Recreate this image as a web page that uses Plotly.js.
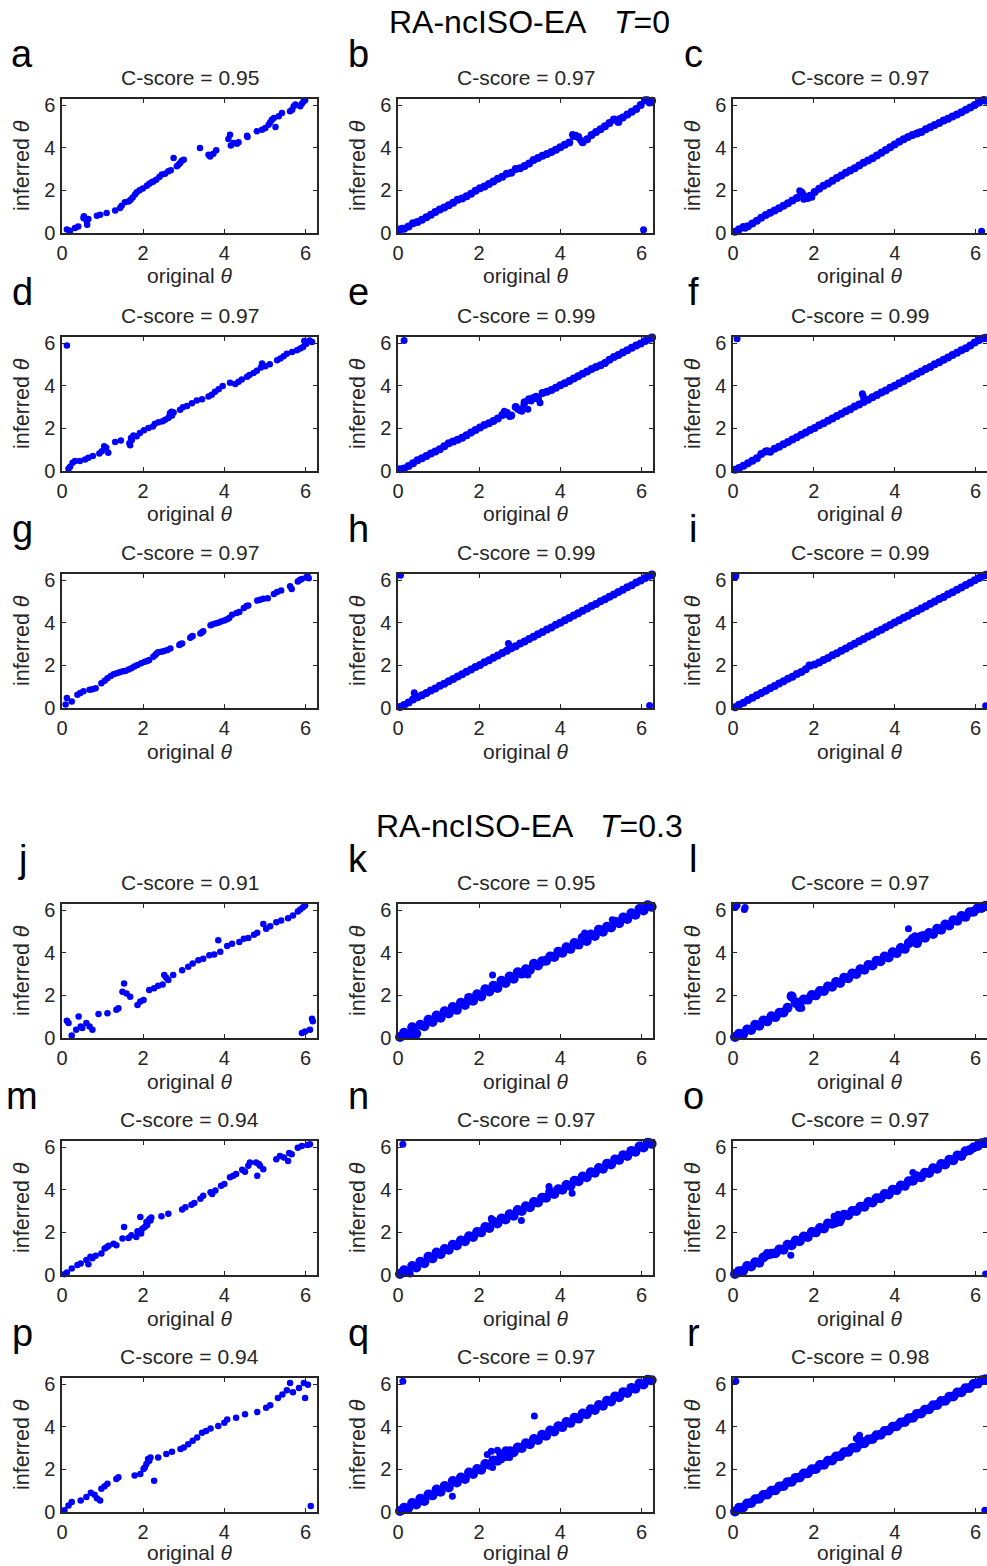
<!DOCTYPE html>
<html>
<head>
<meta charset="utf-8">
<script src="https://cdn.plot.ly/plotly-3.0.1.min.js"></script>
<style>
html,body{margin:0;padding:0;background:#fff;}
#chart{width:987px;height:1566px;}
</style>
</head>
<body>
<div id="chart"></div>
<script>
// ---------------- DATA ----------------
const panelLetters = ['a','b','c','d','e','f','g','h','i','j','k','l','m','n','o','p','q','r'];
const cScores = ['0.95','0.97','0.97','0.97','0.99','0.99','0.97','0.99','0.99','0.91','0.95','0.97','0.94','0.97','0.97','0.94','0.97','0.98'];
const tickValues = [0, 2, 4, 6];
const groupTitles = ['RA-ncISO-EA', 'RA-ncISO-EA'];
const groupTemps = ['0', '0.3'];

// original theta positions read along the dense diagonals (T=0 panels)
const origT0 = [0.05,0.15,0.26,0.37,0.48,0.59,0.70,0.81,0.92,1.03,1.14,1.25,1.36,1.47,1.58,1.69,1.80,1.91,2.02,2.13,2.24,2.35,2.46,2.57,2.68,2.79,2.90,3.01,3.12,3.23,3.34,3.45,3.56,3.67,3.78,3.89,4.00,4.11,4.22,4.33,4.44,4.55,4.66,4.77,4.88,4.99,5.10,5.21,5.32,5.43,5.54,5.65,5.76,5.87,5.98,6.09,6.20,6.26];
// original theta positions read along the dense diagonals (T=0.3 panels)
const origT3 = [0.05,0.15,0.25,0.35,0.45,0.55,0.65,0.75,0.85,0.95,1.05,1.15,1.25,1.35,1.45,1.55,1.65,1.75,1.85,1.95,2.05,2.15,2.25,2.35,2.45,2.55,2.65,2.75,2.85,2.95,3.05,3.15,3.25,3.35,3.45,3.55,3.65,3.75,3.85,3.95,4.05,4.15,4.25,4.35,4.45,4.55,4.65,4.75,4.85,4.95,5.05,5.15,5.25,5.35,5.45,5.55,5.65,5.75,5.85,5.95,6.05,6.15,6.25];

// panel a (sparse)
const aX = [0.12,0.20,0.32,0.40,0.53,0.54,0.61,0.62,0.65,0.86,0.94,1.10,1.31,1.43,1.47,1.55,1.64,1.69,1.74,1.80,1.84,1.91,1.99,2.09,2.15,2.21,2.25,2.32,2.40,2.46,2.54,2.62,2.68,2.75,2.83,2.87,2.91,2.95,3.00,3.40,3.61,3.65,3.73,3.80,4.10,4.14,4.16,4.23,4.31,4.35,4.56,4.57,4.80,4.93,5.01,5.09,5.13,5.17,5.22,5.26,5.34,5.42,5.62,5.67,5.71,5.75,5.87,5.91,5.95,5.99];
const aY = [0.16,0.11,0.23,0.31,0.70,0.78,0.55,0.39,0.66,0.81,0.86,0.94,1.05,1.17,1.28,1.44,1.48,1.56,1.66,1.80,1.91,2.00,2.09,2.22,2.31,2.38,2.42,2.50,2.63,2.74,2.78,2.89,2.94,3.52,3.13,3.20,3.28,3.39,3.44,3.99,3.67,3.59,3.72,3.88,4.41,4.61,4.10,4.22,4.19,4.25,4.56,4.50,4.77,4.84,4.92,5.08,5.19,5.31,5.39,4.97,5.47,5.63,5.71,5.78,5.94,6.02,5.94,6.06,6.17,6.22];

// panel b (dense, on origT0) + extra points
const bY = [0.16,0.20,0.30,0.46,0.52,0.62,0.74,0.86,0.98,1.10,1.20,1.30,1.42,1.56,1.62,1.72,1.84,1.98,2.10,2.18,2.30,2.42,2.54,2.64,2.78,2.82,3.00,3.04,3.14,3.26,3.42,3.52,3.62,3.70,3.80,3.90,4.02,4.14,4.24,4.55,4.50,4.26,4.40,4.60,4.74,4.86,5.00,5.16,5.32,5.20,5.42,5.56,5.68,5.82,6.00,6.22,6.12,6.20];
const bExX = [0.10,4.30,4.38,4.50,5.45,6.15,6.05];
const bExY = [0.22,4.62,4.58,4.35,5.36,6.25,0.15];

// panel c
const cY = [0.06,0.18,0.28,0.32,0.45,0.58,0.72,0.84,0.95,1.06,1.16,1.28,1.40,1.52,1.64,1.90,1.70,1.75,1.92,2.08,2.22,2.32,2.45,2.58,2.70,2.82,2.93,3.04,3.17,3.29,3.40,3.51,3.63,3.76,3.89,4.02,4.15,4.28,4.40,4.50,4.60,4.66,4.74,4.86,4.96,5.06,5.16,5.28,5.36,5.46,5.56,5.66,5.78,5.88,6.00,6.12,6.24,6.20];
const cExX = [1.65,1.72,1.75,1.85,1.95,0.30,4.60,6.15];
const cExY = [1.98,1.85,1.58,1.62,1.68,0.22,4.72,0.08];

// panel d (sparse)
const dX = [0.12,0.16,0.20,0.26,0.32,0.44,0.57,0.65,0.76,0.92,0.98,1.04,1.09,1.14,1.31,1.45,1.68,1.70,1.76,1.84,1.92,2.02,2.13,2.24,2.29,2.38,2.48,2.54,2.62,2.66,2.71,2.75,2.91,2.98,3.08,3.20,3.32,3.45,3.61,3.69,3.77,3.86,3.96,4.14,4.27,4.35,4.43,4.56,4.62,4.72,4.80,4.90,4.93,5.01,5.12,5.30,5.38,5.46,5.54,5.67,5.79,5.87,5.94,5.97,6.02,6.10,6.16,2.65,2.68,2.70,1.66,1.72];
const dY = [5.89,0.11,0.20,0.39,0.47,0.47,0.54,0.62,0.70,0.82,0.93,1.16,1.09,0.85,1.36,1.43,1.21,1.55,1.66,1.63,1.78,1.91,2.02,2.09,2.22,2.28,2.33,2.40,2.48,2.71,2.60,2.74,2.87,2.99,3.05,3.18,3.30,3.36,3.49,3.57,3.72,3.83,3.98,4.14,4.08,4.19,4.29,4.42,4.50,4.60,4.70,4.85,5.04,4.91,5.00,5.19,5.27,5.38,5.50,5.58,5.66,5.74,5.81,6.09,5.97,6.12,6.05,2.55,2.65,2.78,1.30,1.45];

// panel e
const eY = [0.08,0.12,0.24,0.36,0.50,0.60,0.70,0.82,0.92,1.02,1.16,1.30,1.38,1.46,1.56,1.68,1.80,1.92,2.04,2.16,2.24,2.34,2.46,2.62,2.72,2.60,3.00,2.86,3.22,3.36,3.42,3.40,3.66,3.72,3.80,3.90,4.02,4.12,4.22,4.34,4.44,4.56,4.66,4.78,4.88,4.96,5.06,5.22,5.34,5.44,5.56,5.66,5.78,5.88,5.98,6.10,6.20,6.26];
const eExX = [2.62,2.70,2.75,2.95,3.05,3.10,3.20,3.28,3.50,3.40,0.15];
const eExY = [2.80,2.65,2.55,2.90,2.80,3.08,2.90,3.28,3.20,3.50,6.12];

// panel f
const fY = [0.06,0.14,0.25,0.36,0.48,0.60,0.80,0.92,0.90,1.04,1.14,1.26,1.36,1.48,1.58,1.70,1.80,1.92,2.02,2.14,2.24,2.36,2.46,2.58,2.68,2.80,2.90,3.02,3.12,3.24,3.34,3.46,3.56,3.68,3.78,3.90,4.00,4.12,4.22,4.34,4.44,4.56,4.66,4.78,4.88,5.00,5.10,5.22,5.32,5.44,5.54,5.66,5.76,5.88,6.02,6.14,6.22,6.25];
const fExX = [3.20,3.22,0.85,0.10];
const fExY = [3.62,3.52,0.95,6.20];

// panel g (sparse)
const gX = [0.09,0.12,0.24,0.38,0.45,0.53,0.68,0.75,0.83,0.97,1.05,1.12,1.20,1.27,1.35,1.42,1.50,1.56,1.64,1.71,1.78,1.86,1.95,2.04,2.10,2.15,2.25,2.30,2.33,2.37,2.45,2.52,2.60,2.67,2.89,2.92,2.96,3.16,3.19,3.22,3.41,3.45,3.48,3.66,3.70,3.78,3.85,3.92,4.00,4.07,4.12,4.19,4.30,4.37,4.48,4.55,4.59,4.81,4.88,4.96,5.07,5.22,5.30,5.40,5.62,5.66,5.81,5.86,5.91,6.02,6.05,6.08];
const gY = [0.16,0.47,0.31,0.62,0.70,0.78,0.85,0.88,0.93,1.16,1.28,1.40,1.50,1.58,1.63,1.68,1.72,1.74,1.80,1.86,1.95,2.02,2.10,2.17,2.20,2.25,2.40,2.48,2.55,2.61,2.64,2.67,2.72,2.79,2.95,3.00,3.03,3.29,3.34,3.38,3.49,3.55,3.60,3.88,3.92,3.96,4.00,4.06,4.10,4.16,4.22,4.37,4.45,4.50,4.69,4.78,4.81,5.04,5.08,5.12,5.15,5.35,5.44,5.51,5.71,5.58,5.93,6.00,6.05,6.13,6.18,6.08];

// panel h
const hY = [0.05,0.14,0.26,0.40,0.50,0.60,0.70,0.82,0.92,1.04,1.14,1.26,1.36,1.48,1.58,1.70,1.80,1.92,2.02,2.14,2.24,2.36,2.46,2.58,2.68,2.80,2.90,3.02,3.12,3.24,3.34,3.46,3.56,3.68,3.78,3.90,4.00,4.12,4.22,4.34,4.44,4.56,4.66,4.78,4.88,5.00,5.10,5.22,5.32,5.44,5.54,5.66,5.76,5.88,5.98,6.10,6.20,6.26];
const hExX = [0.40,0.42,2.72,2.75,0.06,6.20];
const hExY = [0.72,0.62,3.02,2.92,6.22,0.12];

// panel i
const iY = [0.04,0.15,0.25,0.37,0.48,0.60,0.70,0.81,0.93,1.03,1.15,1.25,1.37,1.47,1.59,1.69,1.82,1.98,2.04,2.13,2.25,2.35,2.47,2.57,2.69,2.79,2.91,3.01,3.13,3.23,3.35,3.45,3.57,3.67,3.79,3.89,4.01,4.11,4.23,4.33,4.45,4.55,4.67,4.77,4.89,4.99,5.11,5.21,5.33,5.43,5.55,5.65,5.77,5.87,5.99,6.09,6.20,6.25];
const iExX = [1.88,0.05,0.07,6.25];
const iExY = [2.02,6.12,6.20,0.10];

// panel j (sparse)
const jX = [0.12,0.16,0.24,0.35,0.41,0.46,0.50,0.60,0.68,0.75,0.90,1.12,1.34,1.39,1.49,1.53,1.59,1.68,1.86,1.93,2.01,2.15,2.27,2.37,2.48,2.52,2.57,2.62,2.74,2.96,3.11,3.22,3.36,3.48,3.63,3.75,3.85,3.90,4.07,4.19,4.37,4.48,4.59,4.73,4.81,4.96,5.03,5.13,5.28,5.40,5.57,5.69,5.81,5.87,5.94,5.99,5.91,5.99,6.11,6.16,6.18];
const jY = [0.81,0.70,0.12,0.39,1.01,0.54,0.47,0.70,0.54,0.39,1.12,1.16,1.32,1.40,2.17,2.56,2.09,1.94,1.55,1.71,1.78,2.25,2.33,2.45,2.51,2.95,2.82,2.72,2.95,3.18,3.34,3.49,3.65,3.72,3.88,3.91,4.58,4.04,4.31,4.42,4.50,4.65,4.69,4.84,4.93,5.35,5.12,5.24,5.43,5.51,5.62,5.74,5.93,6.02,6.13,6.21,0.23,0.31,0.39,0.90,0.78];

// panel k (dense, on origT3)
const kY = [0.05,0.25,0.15,0.50,0.20,0.62,0.55,0.85,0.75,1.05,0.95,1.25,1.15,1.45,1.32,1.65,1.55,1.88,1.75,2.05,1.95,2.28,2.18,2.45,2.35,2.68,2.58,2.88,2.78,3.08,3.02,3.22,3.20,3.48,3.40,3.60,3.62,3.82,3.80,4.05,4.00,4.25,4.18,4.45,4.38,4.70,4.55,4.85,4.78,5.08,4.98,5.22,5.18,5.45,5.38,5.65,5.58,5.85,5.78,6.05,5.98,6.22,6.15];
const kExX = [2.33,3.20,5.28,4.60,6.20,6.10,0.30,0.40];
const kExY = [2.95,2.95,5.55,4.92,6.25,6.20,0.10,0.45];

// panel l
const lY = [0.05,0.20,0.18,0.40,0.38,0.62,0.58,0.82,0.78,1.02,0.98,1.18,1.20,1.42,1.95,1.65,1.45,1.80,1.80,2.02,2.00,2.20,2.20,2.42,2.40,2.62,2.58,2.82,2.80,3.02,3.00,3.22,3.20,3.42,3.40,3.62,3.60,3.82,3.78,4.02,3.98,4.22,4.18,4.45,4.65,4.45,4.75,4.70,4.92,4.88,5.12,5.08,5.32,5.28,5.52,5.50,5.72,5.68,5.90,5.92,6.08,6.10,6.20];
const lExX = [1.43,1.50,1.58,1.70,1.62,4.34,4.50,4.60,4.70,0.06,0.10,0.28,0.30];
const lExY = [2.02,1.80,1.55,1.40,1.72,5.12,4.80,4.55,4.85,6.13,6.22,6.02,6.12];

// panel m (sparse)
const mX = [0.06,0.12,0.24,0.38,0.46,0.60,0.65,0.75,0.83,0.97,1.05,1.15,1.27,1.34,1.49,1.53,1.64,1.71,1.83,1.86,1.93,1.98,2.04,2.08,2.15,2.45,2.62,2.96,3.04,3.19,3.26,3.41,3.48,3.66,3.78,3.92,4.00,4.14,4.22,4.29,4.44,4.51,4.59,4.63,4.78,4.81,4.88,4.96,5.28,5.37,5.47,5.57,5.66,5.81,5.91,6.11,2.10,2.18,2.20,1.95,1.10,5.60,4.85,3.70,0.70,6.05];
const mY = [0.03,0.12,0.31,0.47,0.54,0.70,0.50,0.78,0.90,1.01,1.24,1.37,1.47,1.40,1.71,2.25,1.74,1.86,1.78,2.05,2.72,2.17,2.25,2.48,2.61,2.76,2.87,3.07,3.18,3.29,3.38,3.57,3.72,3.88,3.96,4.19,4.27,4.58,4.65,4.73,4.93,4.84,5.12,5.27,5.27,4.65,5.12,4.96,5.43,5.58,5.51,5.35,5.66,5.97,6.05,6.13,2.35,2.55,2.70,1.95,1.30,5.72,5.20,3.80,0.85,6.10];

// panel n
const nY = [0.05,0.22,0.15,0.42,0.35,0.62,0.55,0.85,0.78,1.05,0.98,1.22,1.18,1.42,1.38,1.62,1.58,1.82,1.78,2.02,2.00,2.25,2.20,2.50,2.42,2.65,2.60,2.85,2.78,3.05,3.00,3.22,3.18,3.42,3.40,3.62,3.62,3.90,3.80,4.02,4.00,4.22,4.18,4.42,4.40,4.62,4.58,4.82,4.80,5.02,4.98,5.22,5.18,5.42,5.40,5.62,5.58,5.82,5.78,6.02,5.98,6.20,6.15];
const nExX = [0.12,3.04,4.29,2.30,3.72,6.20,0.30];
const nExY = [6.13,2.56,3.83,2.65,4.15,6.25,0.05];

// panel o
const oY = [0.05,0.18,0.20,0.42,0.40,0.60,0.58,0.82,0.95,1.00,1.02,1.20,1.18,1.42,1.40,1.62,1.58,1.80,1.78,2.02,2.00,2.20,2.18,2.42,2.40,2.62,2.58,2.82,2.80,3.00,3.00,3.20,3.20,3.42,3.40,3.60,3.60,3.80,3.78,4.00,3.98,4.20,4.18,4.40,4.42,4.60,4.58,4.80,4.78,5.00,4.98,5.20,5.18,5.40,5.38,5.60,5.58,5.80,5.85,5.98,6.05,6.18,6.22];
const oExX = [1.43,0.84,2.50,2.55,2.60,2.65,2.70,4.45,4.55,6.25];
const oExY = [0.93,1.05,2.75,2.40,2.85,2.45,2.80,4.81,4.70,0.05];

// panel p (sparse)
const pX = [0.06,0.16,0.24,0.46,0.60,0.71,0.80,0.86,0.94,0.97,1.05,1.12,1.34,1.39,1.79,1.93,2.01,2.04,2.08,2.12,2.15,2.18,2.27,2.37,2.57,2.71,2.92,3.00,3.11,3.22,3.33,3.45,3.55,3.66,3.85,4.00,4.07,4.29,4.51,4.81,5.03,5.13,5.32,5.43,5.54,5.62,5.69,5.84,5.96,5.99,6.06,6.13];
const pY = [0.08,0.31,0.47,0.54,0.70,0.90,0.81,0.65,0.54,1.09,1.21,1.32,1.55,1.63,1.71,1.78,2.02,2.09,2.25,2.48,2.40,2.56,1.47,2.56,2.72,2.82,2.95,3.03,3.18,3.34,3.49,3.72,3.80,3.91,4.03,4.19,4.34,4.42,4.58,4.69,4.89,5.00,5.35,5.51,5.71,6.05,5.62,5.82,6.05,5.35,5.97,0.28];

// panel q
const qY = [0.05,0.20,0.18,0.42,0.35,0.62,0.52,0.82,0.78,1.05,0.95,1.22,1.15,1.45,1.38,1.62,1.55,1.85,1.78,2.02,1.98,2.25,2.22,2.42,2.40,2.65,2.62,2.85,2.80,3.02,3.00,3.22,3.18,3.42,3.38,3.62,3.58,3.82,3.78,4.02,3.98,4.22,4.18,4.42,4.38,4.62,4.58,4.82,4.78,5.02,4.98,5.22,5.18,5.42,5.38,5.62,5.58,5.82,5.78,6.02,5.98,6.20,6.18];
const qExX = [0.12,3.36,1.34,2.33,2.20,2.30,2.45,2.55,2.65,2.75,2.80,2.50];
const qExY = [6.13,4.50,0.74,2.09,2.70,2.85,2.90,2.45,2.92,2.55,2.90,2.80];

// panel r
const rY = [0.02,0.20,0.21,0.40,0.42,0.60,0.62,0.80,0.82,1.00,1.02,1.20,1.22,1.40,1.42,1.60,1.62,1.80,1.82,2.00,2.02,2.20,2.22,2.40,2.42,2.60,2.62,2.80,2.82,3.00,3.02,3.20,3.22,3.40,3.42,3.60,3.62,3.80,3.82,4.00,4.02,4.20,4.22,4.40,4.42,4.60,4.62,4.80,4.82,5.00,5.02,5.20,5.22,5.40,5.42,5.60,5.62,5.80,5.82,6.00,6.02,6.18,6.22];
const rExX = [0.07,6.23,3.13,3.05,3.20];
const rExY = [6.13,0.08,3.60,3.45,3.35];

// ---------------- BUILD ----------------
// each panel: [main x, main y, extra x, extra y]
const panelData = [
  [aX, aY, [], []],
  [origT0, bY, bExX, bExY],
  [origT0, cY, cExX, cExY],
  [dX, dY, [], []],
  [origT0, eY, eExX, eExY],
  [origT0, fY, fExX, fExY],
  [gX, gY, [], []],
  [origT0, hY, hExX, hExY],
  [origT0, iY, iExX, iExY],
  [jX, jY, [], []],
  [origT3, kY, kExX, kExY],
  [origT3, lY, lExX, lExY],
  [mX, mY, [], []],
  [origT3, nY, nExX, nExY],
  [origT3, oY, oExX, oExY],
  [pX, pY, [], []],
  [origT3, qY, qExX, qExY],
  [origT3, rY, rExX, rExY]
];

const W = 987, H = 1566;
const colL = [62, 398, 733], colR = [317, 653, 987];
const rowT = [99, 337, 574, 904, 1141, 1378], rowB = [233, 471, 708, 1038, 1275, 1512];
const FONT = 'Liberation Sans, Arial, Helvetica, sans-serif';
const TXT = '#262626';
const fx = v => v / W, fy = v => 1 - v / H;

const traces = [], annotations = [];
const layout = {
  width: W, height: H,
  margin: {l: 0, r: 0, t: 0, b: 0},
  paper_bgcolor: '#ffffff', plot_bgcolor: '#ffffff',
  showlegend: false,
  font: {family: FONT, color: TXT},
  annotations: annotations
};

panelData.forEach((pd, i) => {
  const row = Math.floor(i / 3), col = i % 3;
  const n = i + 1;
  const xa = 'xaxis' + (n === 1 ? '' : n), ya = 'yaxis' + (n === 1 ? '' : n);
  const xr = 'x' + (n === 1 ? '' : n), yr = 'y' + (n === 1 ? '' : n);
  const L = colL[col], R = colR[col], T = rowT[row], B = rowB[row];
  const dense = col !== 0;
  const msize = !dense ? 6.5 : (row >= 3 ? 10 : 8);
  const common = {
    range: [0, 2 * Math.PI], tickvals: tickValues, ticktext: tickValues.map(String),
    ticks: 'inside', ticklen: 4, tickwidth: 1, tickcolor: TXT,
    showline: true, linecolor: TXT, linewidth: 1.6, mirror: 'ticks',
    showgrid: false, zeroline: false, fixedrange: true,
    tickfont: {family: FONT, size: 20, color: TXT}
  };
  layout[xa] = Object.assign({}, common, {domain: [fx(L), fx(R)], anchor: yr, ticklabelstandoff: 1});
  layout[ya] = Object.assign({}, common, {domain: [fy(B), fy(T)], anchor: xr, ticklabelstandoff: 1});
  traces.push({
    type: 'scatter', mode: 'markers', x: pd[0], y: pd[1], xaxis: xr, yaxis: yr,
    marker: {color: '#0000ff', size: msize, line: {width: 0}},
    cliponaxis: false, hoverinfo: 'skip', showlegend: false
  });
  if (pd[2].length) {
    traces.push({
      type: 'scatter', mode: 'markers', x: pd[2], y: pd[3], xaxis: xr, yaxis: yr,
      marker: {color: '#0000ff', size: 7, line: {width: 0}},
      cliponaxis: false, hoverinfo: 'skip', showlegend: false
    });
  }
  const xlabOff = row === 5 ? 40 : 43;
  annotations.push({xref: 'paper', yref: 'paper', x: fx((L + R) / 2), y: fy(T - 22), text: 'C-score = ' + cScores[i],
    showarrow: false, xanchor: 'center', yanchor: 'middle', font: {family: FONT, size: 21, color: TXT}});
  annotations.push({xref: 'paper', yref: 'paper', x: fx((L + R) / 2), y: fy(B + xlabOff), text: 'original <i>θ</i>',
    showarrow: false, xanchor: 'center', yanchor: 'middle', font: {family: FONT, size: 21, color: TXT}});
  annotations.push({xref: 'paper', yref: 'paper', x: fx(L - 40), y: fy((T + B) / 2), text: 'inferred <i>θ</i>',
    showarrow: false, xanchor: 'center', yanchor: 'middle', textangle: -90, font: {family: FONT, size: 21.5, color: TXT}});
  annotations.push({xref: 'paper', yref: 'paper', x: fx(L - 40), y: fy(T - 45), text: panelLetters[i],
    showarrow: false, xanchor: 'center', yanchor: 'middle', font: {family: FONT, size: 38, color: '#000000'}});
});

// group titles
const groupY = [22, 826], groupLeft = [387, 374], groupTLeft = [612, 598];
groupTitles.forEach((t, g) => {
  annotations.push({xref: 'paper', yref: 'paper', x: fx(groupLeft[g]), y: fy(groupY[g]), text: t,
    showarrow: false, xanchor: 'left', yanchor: 'middle', font: {family: FONT, size: 32, color: '#000000'}});
  annotations.push({xref: 'paper', yref: 'paper', x: fx(groupTLeft[g]), y: fy(groupY[g]), text: '<i>T</i>=' + groupTemps[g],
    showarrow: false, xanchor: 'left', yanchor: 'middle', font: {family: FONT, size: 32, color: '#000000'}});
});

Plotly.newPlot('chart', traces, layout, {staticPlot: true, displayModeBar: false});
</script>
</body>
</html>
